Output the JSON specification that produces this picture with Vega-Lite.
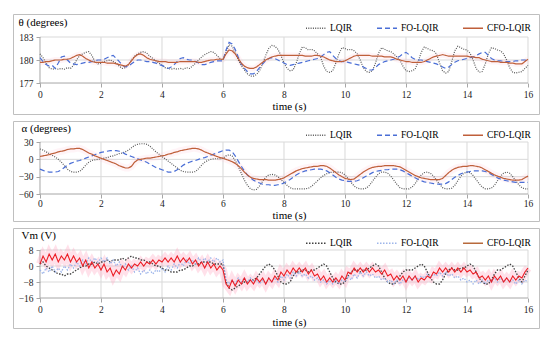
{
"$schema": "https://vega.github.io/schema/vega-lite/v6.json",
"padding": {"left": 12, "top": 13, "right": 5, "bottom": 5},
"background": "white",
"spacing": 5,
"datasets": {"d": [
{"t":0.0,"L1":180.8,"F1":180.3,"C1":179.7,"L2":18,"F2":-17,"C2":5,"L3":1,"F3":-2,"C3":1},
{"t":0.1,"L1":180.3,"F1":179.8,"C1":179.7,"L2":16,"F2":-19,"C2":6,"L3":2,"F3":-4,"C3":5},
{"t":0.2,"L1":179.6,"F1":179.4,"C1":179.8,"L2":13,"F2":-21,"C2":7,"L3":0,"F3":-1,"C3":2},
{"t":0.3,"L1":179.0,"F1":179.2,"C1":179.8,"L2":10,"F2":-22,"C2":8,"L3":-1,"F3":-3,"C3":6},
{"t":0.4,"L1":178.8,"F1":179.3,"C1":179.9,"L2":7,"F2":-22,"C2":10,"L3":-2,"F3":0,"C3":3},
{"t":0.5,"L1":178.9,"F1":178.9,"C1":180.0,"L2":4,"F2":-22,"C2":11,"L3":-3,"F3":-3,"C3":6},
{"t":0.6,"L1":178.8,"F1":179.6,"C1":180.0,"L2":0,"F2":-21,"C2":13,"L3":-4,"F3":-1,"C3":2},
{"t":0.7,"L1":178.9,"F1":180.4,"C1":180.0,"L2":-5,"F2":-18,"C2":14,"L3":-4,"F3":-3,"C3":5},
{"t":0.8,"L1":178.8,"F1":180.5,"C1":180.1,"L2":-11,"F2":-14,"C2":15,"L3":-5,"F3":0,"C3":3},
{"t":0.9,"L1":179.0,"F1":180.0,"C1":180.1,"L2":-17,"F2":-10,"C2":17,"L3":-4,"F3":-2,"C3":6},
{"t":1.0,"L1":178.9,"F1":179.6,"C1":180.2,"L2":-21,"F2":-7,"C2":18,"L3":-4,"F3":1,"C3":2},
{"t":1.1,"L1":179.3,"F1":179.5,"C1":180.4,"L2":-22,"F2":-5,"C2":18,"L3":-3,"F3":-1,"C3":5},
{"t":1.2,"L1":180.0,"F1":179.4,"C1":180.6,"L2":-22,"F2":-3,"C2":19,"L3":-2,"F3":2,"C3":2},
{"t":1.3,"L1":180.6,"F1":179.5,"C1":180.7,"L2":-21,"F2":-2,"C2":19,"L3":-1,"F3":0,"C3":4},
{"t":1.4,"L1":180.8,"F1":179.6,"C1":180.5,"L2":-16,"F2":0,"C2":17,"L3":0,"F3":3,"C3":0},
{"t":1.5,"L1":181.0,"F1":179.7,"C1":180.2,"L2":-10,"F2":2,"C2":14,"L3":0,"F3":1,"C3":3},
{"t":1.6,"L1":181.1,"F1":179.7,"C1":180.0,"L2":-5,"F2":4,"C2":11,"L3":1,"F3":4,"C3":-1},
{"t":1.7,"L1":180.6,"F1":179.8,"C1":179.8,"L2":-2,"F2":6,"C2":9,"L3":1,"F3":2,"C3":2},
{"t":1.8,"L1":179.8,"F1":179.9,"C1":179.7,"L2":-1,"F2":8,"C2":6,"L3":2,"F3":4,"C3":-1},
{"t":1.9,"L1":179.5,"F1":180.0,"C1":179.7,"L2":0,"F2":10,"C2":4,"L3":1,"F3":2,"C3":1},
{"t":2.0,"L1":179.6,"F1":180.0,"C1":179.7,"L2":1,"F2":12,"C2":2,"L3":2,"F3":4,"C3":-2},
{"t":2.1,"L1":179.8,"F1":180.1,"C1":179.7,"L2":2,"F2":13,"C2":0,"L3":2,"F3":2,"C3":1},
{"t":2.2,"L1":179.9,"F1":180.3,"C1":179.6,"L2":3,"F2":14,"C2":-2,"L3":3,"F3":4,"C3":-3},
{"t":2.3,"L1":180.0,"F1":180.5,"C1":179.6,"L2":5,"F2":15,"C2":-4,"L3":2,"F3":1,"C3":-1},
{"t":2.4,"L1":179.8,"F1":180.6,"C1":179.6,"L2":6,"F2":15,"C2":-6,"L3":3,"F3":3,"C3":-5},
{"t":2.5,"L1":179.6,"F1":180.2,"C1":179.5,"L2":8,"F2":15,"C2":-8,"L3":3,"F3":0,"C3":-2},
{"t":2.6,"L1":179.2,"F1":179.8,"C1":179.4,"L2":10,"F2":14,"C2":-11,"L3":3,"F3":2,"C3":-4},
{"t":2.7,"L1":178.9,"F1":179.3,"C1":179.3,"L2":11,"F2":12,"C2":-13,"L3":4,"F3":-1,"C3":0},
{"t":2.8,"L1":179.0,"F1":179.1,"C1":179.2,"L2":13,"F2":9,"C2":-15,"L3":3,"F3":1,"C3":-2},
{"t":2.9,"L1":179.4,"F1":179.2,"C1":179.4,"L2":16,"F2":7,"C2":-15,"L3":4,"F3":-2,"C3":1},
{"t":3.0,"L1":180.0,"F1":179.5,"C1":179.9,"L2":20,"F2":5,"C2":-12,"L3":5,"F3":0,"C3":-1},
{"t":3.1,"L1":180.5,"F1":179.8,"C1":180.4,"L2":24,"F2":3,"C2":-5,"L3":4,"F3":-3,"C3":1},
{"t":3.2,"L1":180.8,"F1":180.0,"C1":180.7,"L2":26,"F2":1,"C2":-1,"L3":4,"F3":-1,"C3":0},
{"t":3.3,"L1":181.0,"F1":180.0,"C1":180.8,"L2":27,"F2":-1,"C2":0,"L3":3,"F3":-4,"C3":2},
{"t":3.4,"L1":181.1,"F1":179.9,"C1":180.6,"L2":27,"F2":-3,"C2":1,"L3":3,"F3":-2,"C3":0},
{"t":3.5,"L1":180.9,"F1":179.8,"C1":180.3,"L2":26,"F2":-5,"C2":2,"L3":2,"F3":-4,"C3":2},
{"t":3.6,"L1":180.5,"F1":179.8,"C1":180.1,"L2":23,"F2":-8,"C2":2,"L3":2,"F3":-2,"C3":1},
{"t":3.7,"L1":180.2,"F1":179.7,"C1":180.0,"L2":18,"F2":-11,"C2":3,"L3":1,"F3":-4,"C3":3},
{"t":3.8,"L1":179.9,"F1":179.6,"C1":179.9,"L2":13,"F2":-14,"C2":4,"L3":0,"F3":-2,"C3":1},
{"t":3.9,"L1":179.6,"F1":179.4,"C1":179.8,"L2":9,"F2":-16,"C2":5,"L3":0,"F3":-3,"C3":3},
{"t":4.0,"L1":179.3,"F1":179.3,"C1":179.8,"L2":5,"F2":-18,"C2":6,"L3":-1,"F3":-1,"C3":2},
{"t":4.1,"L1":179.0,"F1":179.1,"C1":179.8,"L2":1,"F2":-20,"C2":7,"L3":-2,"F3":-3,"C3":4},
{"t":4.2,"L1":178.9,"F1":178.9,"C1":179.7,"L2":-3,"F2":-22,"C2":9,"L3":-2,"F3":0,"C3":2},
{"t":4.3,"L1":178.8,"F1":179.1,"C1":179.7,"L2":-7,"F2":-22,"C2":10,"L3":-3,"F3":-2,"C3":4},
{"t":4.4,"L1":178.9,"F1":179.4,"C1":179.7,"L2":-11,"F2":-21,"C2":12,"L3":-3,"F3":1,"C3":2},
{"t":4.5,"L1":178.8,"F1":179.8,"C1":179.7,"L2":-15,"F2":-18,"C2":13,"L3":-3,"F3":-1,"C3":5},
{"t":4.6,"L1":178.9,"F1":180.2,"C1":179.8,"L2":-19,"F2":-14,"C2":15,"L3":-2,"F3":2,"C3":2},
{"t":4.7,"L1":178.8,"F1":180.3,"C1":179.8,"L2":-21,"F2":-10,"C2":16,"L3":-2,"F3":0,"C3":4},
{"t":4.8,"L1":179.0,"F1":180.1,"C1":179.8,"L2":-22,"F2":-7,"C2":17,"L3":-1,"F3":3,"C3":2},
{"t":4.9,"L1":178.9,"F1":180.0,"C1":179.8,"L2":-22,"F2":-5,"C2":18,"L3":0,"F3":1,"C3":4},
{"t":5.0,"L1":179.2,"F1":180.0,"C1":179.8,"L2":-22,"F2":-3,"C2":19,"L3":0,"F3":3,"C3":1},
{"t":5.1,"L1":179.6,"F1":179.8,"C1":179.8,"L2":-21,"F2":-2,"C2":19,"L3":1,"F3":1,"C3":3},
{"t":5.2,"L1":180.0,"F1":179.6,"C1":179.7,"L2":-16,"F2":0,"C2":18,"L3":1,"F3":4,"C3":0},
{"t":5.3,"L1":180.4,"F1":179.4,"C1":179.7,"L2":-10,"F2":2,"C2":16,"L3":2,"F3":2,"C3":2},
{"t":5.4,"L1":180.7,"F1":179.4,"C1":179.8,"L2":-5,"F2":3,"C2":13,"L3":2,"F3":4,"C3":-1},
{"t":5.5,"L1":180.9,"F1":179.5,"C1":179.9,"L2":-2,"F2":5,"C2":11,"L3":2,"F3":2,"C3":2},
{"t":5.6,"L1":181.1,"F1":179.7,"C1":180.0,"L2":0,"F2":7,"C2":9,"L3":2,"F3":4,"C3":-1},
{"t":5.7,"L1":181.0,"F1":179.8,"C1":180.0,"L2":1,"F2":9,"C2":7,"L3":1,"F3":2,"C3":1},
{"t":5.8,"L1":180.6,"F1":179.9,"C1":180.1,"L2":1,"F2":11,"C2":5,"L3":1,"F3":4,"C3":-2},
{"t":5.9,"L1":180.2,"F1":179.9,"C1":180.1,"L2":1,"F2":13,"C2":3,"L3":1,"F3":2,"C3":0},
{"t":6.0,"L1":180.0,"F1":179.9,"C1":180.1,"L2":2,"F2":15,"C2":2,"L3":1,"F3":3,"C3":-2},
{"t":6.1,"L1":181.0,"F1":181.3,"C1":180.8,"L2":6,"F2":16,"C2":0,"L3":-8,"F3":-7,"C3":-9},
{"t":6.2,"L1":182.0,"F1":182.3,"C1":181.3,"L2":8,"F2":16,"C2":-2,"L3":-11,"F3":-9,"C3":-11},
{"t":6.3,"L1":181.8,"F1":182.1,"C1":181.2,"L2":6,"F2":13,"C2":-4,"L3":-12,"F3":-7,"C3":-7},
{"t":6.4,"L1":181.0,"F1":181.4,"C1":180.8,"L2":-2,"F2":6,"C2":-7,"L3":-11,"F3":-9,"C3":-10},
{"t":6.5,"L1":180.0,"F1":180.4,"C1":180.2,"L2":-12,"F2":-3,"C2":-11,"L3":-10,"F3":-6,"C3":-7},
{"t":6.6,"L1":179.3,"F1":179.5,"C1":179.6,"L2":-24,"F2":-12,"C2":-16,"L3":-9,"F3":-8,"C3":-9},
{"t":6.7,"L1":178.7,"F1":178.9,"C1":179.2,"L2":-36,"F2":-20,"C2":-22,"L3":-8,"F3":-6,"C3":-6},
{"t":6.8,"L1":178.2,"F1":178.5,"C1":179.0,"L2":-45,"F2":-27,"C2":-27,"L3":-8,"F3":-8,"C3":-9},
{"t":6.9,"L1":177.9,"F1":178.2,"C1":178.9,"L2":-51,"F2":-32,"C2":-31,"L3":-7,"F3":-6,"C3":-7},
{"t":7.0,"L1":177.9,"F1":178.2,"C1":178.9,"L2":-53,"F2":-36,"C2":-33,"L3":-7,"F3":-8,"C3":-9},
{"t":7.1,"L1":178.1,"F1":178.5,"C1":179.1,"L2":-52,"F2":-39,"C2":-34,"L3":-6,"F3":-7,"C3":-6},
{"t":7.2,"L1":178.6,"F1":179.0,"C1":179.4,"L2":-46,"F2":-41,"C2":-35,"L3":-4,"F3":-9,"C3":-8},
{"t":7.3,"L1":179.5,"F1":179.5,"C1":179.7,"L2":-38,"F2":-43,"C2":-35,"L3":-2,"F3":-7,"C3":-6},
{"t":7.4,"L1":180.6,"F1":179.9,"C1":180.0,"L2":-31,"F2":-44,"C2":-35,"L3":0,"F3":-9,"C3":-9},
{"t":7.5,"L1":181.5,"F1":180.2,"C1":180.2,"L2":-27,"F2":-44,"C2":-36,"L3":1,"F3":-6,"C3":-6},
{"t":7.6,"L1":181.9,"F1":180.3,"C1":180.4,"L2":-26,"F2":-45,"C2":-36,"L3":0,"F3":-8,"C3":-8},
{"t":7.7,"L1":181.8,"F1":180.2,"C1":180.5,"L2":-27,"F2":-45,"C2":-36,"L3":-2,"F3":-6,"C3":-5},
{"t":7.8,"L1":181.4,"F1":180.0,"C1":180.6,"L2":-30,"F2":-44,"C2":-35,"L3":-5,"F3":-8,"C3":-7},
{"t":7.9,"L1":180.6,"F1":179.8,"C1":180.6,"L2":-35,"F2":-43,"C2":-34,"L3":-8,"F3":-5,"C3":-3},
{"t":8.0,"L1":179.6,"F1":179.6,"C1":180.6,"L2":-40,"F2":-41,"C2":-32,"L3":-9,"F3":-7,"C3":-5},
{"t":8.1,"L1":178.9,"F1":179.4,"C1":180.6,"L2":-45,"F2":-38,"C2":-29,"L3":-9,"F3":-4,"C3":-2},
{"t":8.2,"L1":178.6,"F1":179.3,"C1":180.6,"L2":-49,"F2":-35,"C2":-26,"L3":-8,"F3":-6,"C3":-4},
{"t":8.3,"L1":178.7,"F1":179.4,"C1":180.6,"L2":-51,"F2":-31,"C2":-23,"L3":-5,"F3":-3,"C3":-1},
{"t":8.4,"L1":179.6,"F1":179.5,"C1":180.6,"L2":-51,"F2":-27,"C2":-20,"L3":-3,"F3":-5,"C3":-3},
{"t":8.5,"L1":180.8,"F1":179.6,"C1":180.6,"L2":-51,"F2":-24,"C2":-18,"L3":-3,"F3":-3,"C3":-1},
{"t":8.6,"L1":181.7,"F1":179.7,"C1":180.6,"L2":-51,"F2":-22,"C2":-16,"L3":-2,"F3":-5,"C3":-3},
{"t":8.7,"L1":181.6,"F1":179.8,"C1":180.5,"L2":-51,"F2":-20,"C2":-15,"L3":-2,"F3":-4,"C3":-1},
{"t":8.8,"L1":181.3,"F1":179.9,"C1":180.5,"L2":-50,"F2":-19,"C2":-14,"L3":-3,"F3":-6,"C3":-4},
{"t":8.9,"L1":181.4,"F1":180.0,"C1":180.5,"L2":-47,"F2":-18,"C2":-13,"L3":-2,"F3":-5,"C3":-2},
{"t":9.0,"L1":181.2,"F1":180.1,"C1":180.6,"L2":-42,"F2":-17,"C2":-12,"L3":-2,"F3":-7,"C3":-5},
{"t":9.1,"L1":180.8,"F1":180.2,"C1":180.6,"L2":-37,"F2":-17,"C2":-12,"L3":-1,"F3":-6,"C3":-4},
{"t":9.2,"L1":180.4,"F1":180.4,"C1":180.5,"L2":-32,"F2":-17,"C2":-11,"L3":0,"F3":-8,"C3":-7},
{"t":9.3,"L1":179.2,"F1":180.7,"C1":180.4,"L2":-28,"F2":-18,"C2":-11,"L3":1,"F3":-7,"C3":-5},
{"t":9.4,"L1":178.5,"F1":181.0,"C1":180.2,"L2":-25,"F2":-20,"C2":-12,"L3":0,"F3":-9,"C3":-8},
{"t":9.5,"L1":178.4,"F1":181.1,"C1":180.0,"L2":-23,"F2":-23,"C2":-15,"L3":-3,"F3":-7,"C3":-6},
{"t":9.6,"L1":178.6,"F1":180.6,"C1":179.9,"L2":-22,"F2":-27,"C2":-19,"L3":-6,"F3":-9,"C3":-8},
{"t":9.7,"L1":179.6,"F1":180.2,"C1":179.8,"L2":-22,"F2":-31,"C2":-23,"L3":-8,"F3":-7,"C3":-6},
{"t":9.8,"L1":180.8,"F1":179.9,"C1":179.8,"L2":-22,"F2":-34,"C2":-27,"L3":-9,"F3":-9,"C3":-8},
{"t":9.9,"L1":181.6,"F1":179.8,"C1":179.8,"L2":-23,"F2":-36,"C2":-30,"L3":-9,"F3":-7,"C3":-5},
{"t":10.0,"L1":181.5,"F1":179.8,"C1":179.9,"L2":-27,"F2":-37,"C2":-33,"L3":-8,"F3":-8,"C3":-7},
{"t":10.1,"L1":181.3,"F1":179.7,"C1":180.1,"L2":-33,"F2":-38,"C2":-34,"L3":-5,"F3":-5,"C3":-3},
{"t":10.2,"L1":181.4,"F1":179.6,"C1":180.3,"L2":-40,"F2":-38,"C2":-35,"L3":-3,"F3":-7,"C3":-4},
{"t":10.3,"L1":181.2,"F1":179.5,"C1":180.5,"L2":-46,"F2":-38,"C2":-34,"L3":-2,"F3":-4,"C3":-1},
{"t":10.4,"L1":180.8,"F1":179.4,"C1":180.6,"L2":-50,"F2":-37,"C2":-30,"L3":-2,"F3":-6,"C3":-3},
{"t":10.5,"L1":180.0,"F1":179.3,"C1":180.6,"L2":-51,"F2":-35,"C2":-26,"L3":-3,"F3":-3,"C3":-1},
{"t":10.6,"L1":179.0,"F1":179.1,"C1":180.6,"L2":-51,"F2":-32,"C2":-22,"L3":-2,"F3":-5,"C3":-3},
{"t":10.7,"L1":178.5,"F1":178.9,"C1":180.6,"L2":-50,"F2":-29,"C2":-19,"L3":-2,"F3":-3,"C3":-1},
{"t":10.8,"L1":178.4,"F1":178.7,"C1":180.6,"L2":-45,"F2":-26,"C2":-16,"L3":-1,"F3":-5,"C3":-3},
{"t":10.9,"L1":178.6,"F1":178.7,"C1":180.5,"L2":-38,"F2":-23,"C2":-14,"L3":0,"F3":-4,"C3":-1},
{"t":11.0,"L1":179.6,"F1":179.0,"C1":180.5,"L2":-31,"F2":-21,"C2":-13,"L3":1,"F3":-6,"C3":-3},
{"t":11.1,"L1":180.9,"F1":179.4,"C1":180.5,"L2":-25,"F2":-20,"C2":-12,"L3":0,"F3":-5,"C3":-2},
{"t":11.2,"L1":181.6,"F1":179.6,"C1":180.5,"L2":-22,"F2":-19,"C2":-12,"L3":-3,"F3":-7,"C3":-4},
{"t":11.3,"L1":181.4,"F1":179.8,"C1":180.4,"L2":-22,"F2":-18,"C2":-11,"L3":-6,"F3":-6,"C3":-2},
{"t":11.4,"L1":181.2,"F1":179.9,"C1":180.4,"L2":-24,"F2":-18,"C2":-11,"L3":-8,"F3":-8,"C3":-5},
{"t":11.5,"L1":181.1,"F1":180.0,"C1":180.4,"L2":-29,"F2":-17,"C2":-11,"L3":-9,"F3":-7,"C3":-4},
{"t":11.6,"L1":180.8,"F1":180.1,"C1":180.3,"L2":-36,"F2":-17,"C2":-11,"L3":-9,"F3":-9,"C3":-7},
{"t":11.7,"L1":180.4,"F1":180.3,"C1":180.1,"L2":-43,"F2":-17,"C2":-12,"L3":-8,"F3":-7,"C3":-5},
{"t":11.8,"L1":180.0,"F1":180.5,"C1":180.0,"L2":-49,"F2":-18,"C2":-13,"L3":-5,"F3":-9,"C3":-7},
{"t":11.9,"L1":179.2,"F1":180.8,"C1":179.9,"L2":-51,"F2":-20,"C2":-16,"L3":-3,"F3":-7,"C3":-5},
{"t":12.0,"L1":178.6,"F1":181.0,"C1":179.8,"L2":-51,"F2":-23,"C2":-19,"L3":-2,"F3":-8,"C3":-8},
{"t":12.1,"L1":178.5,"F1":180.7,"C1":179.8,"L2":-51,"F2":-26,"C2":-22,"L3":-2,"F3":-6,"C3":-5},
{"t":12.2,"L1":178.6,"F1":180.3,"C1":179.7,"L2":-48,"F2":-29,"C2":-25,"L3":-2,"F3":-7,"C3":-7},
{"t":12.3,"L1":178.8,"F1":180.1,"C1":179.7,"L2":-42,"F2":-32,"C2":-28,"L3":-1,"F3":-5,"C3":-5},
{"t":12.4,"L1":179.8,"F1":180.0,"C1":179.7,"L2":-34,"F2":-35,"C2":-30,"L3":0,"F3":-7,"C3":-8},
{"t":12.5,"L1":181.0,"F1":180.0,"C1":179.7,"L2":-27,"F2":-37,"C2":-32,"L3":1,"F3":-5,"C3":-6},
{"t":12.6,"L1":181.7,"F1":179.9,"C1":179.8,"L2":-23,"F2":-39,"C2":-33,"L3":0,"F3":-6,"C3":-7},
{"t":12.7,"L1":181.5,"F1":179.8,"C1":180.0,"L2":-22,"F2":-40,"C2":-34,"L3":-3,"F3":-4,"C3":-5},
{"t":12.8,"L1":181.3,"F1":179.7,"C1":180.2,"L2":-24,"F2":-41,"C2":-35,"L3":-6,"F3":-6,"C3":-6},
{"t":12.9,"L1":181.2,"F1":179.6,"C1":180.4,"L2":-29,"F2":-42,"C2":-35,"L3":-8,"F3":-4,"C3":-3},
{"t":13.0,"L1":180.8,"F1":179.5,"C1":180.5,"L2":-36,"F2":-43,"C2":-35,"L3":-9,"F3":-5,"C3":-4},
{"t":13.1,"L1":179.6,"F1":179.3,"C1":180.6,"L2":-43,"F2":-43,"C2":-35,"L3":-9,"F3":-3,"C3":-1},
{"t":13.2,"L1":178.6,"F1":179.1,"C1":180.7,"L2":-49,"F2":-43,"C2":-33,"L3":-7,"F3":-5,"C3":-3},
{"t":13.3,"L1":178.3,"F1":178.9,"C1":180.6,"L2":-51,"F2":-42,"C2":-28,"L3":-4,"F3":-3,"C3":-1},
{"t":13.4,"L1":178.5,"F1":179.1,"C1":180.5,"L2":-51,"F2":-39,"C2":-23,"L3":-2,"F3":-5,"C3":-3},
{"t":13.5,"L1":179.8,"F1":179.4,"C1":180.5,"L2":-50,"F2":-35,"C2":-19,"L3":-1,"F3":-4,"C3":-1},
{"t":13.6,"L1":181.2,"F1":179.7,"C1":180.5,"L2":-45,"F2":-31,"C2":-16,"L3":-2,"F3":-6,"C3":-3},
{"t":13.7,"L1":181.8,"F1":179.9,"C1":180.5,"L2":-37,"F2":-28,"C2":-14,"L3":-2,"F3":-5,"C3":-1},
{"t":13.8,"L1":181.6,"F1":180.0,"C1":180.5,"L2":-29,"F2":-25,"C2":-13,"L3":-1,"F3":-7,"C3":-3},
{"t":13.9,"L1":181.4,"F1":180.1,"C1":180.5,"L2":-24,"F2":-23,"C2":-12,"L3":-1,"F3":-6,"C3":-1},
{"t":14.0,"L1":181.3,"F1":180.2,"C1":180.5,"L2":-22,"F2":-22,"C2":-12,"L3":0,"F3":-8,"C3":-3},
{"t":14.1,"L1":180.9,"F1":180.3,"C1":180.4,"L2":-23,"F2":-21,"C2":-11,"L3":1,"F3":-7,"C3":-2},
{"t":14.2,"L1":180.0,"F1":180.4,"C1":180.4,"L2":-28,"F2":-20,"C2":-11,"L3":0,"F3":-9,"C3":-4},
{"t":14.3,"L1":178.9,"F1":180.6,"C1":180.3,"L2":-35,"F2":-20,"C2":-12,"L3":-3,"F3":-7,"C3":-3},
{"t":14.4,"L1":178.4,"F1":180.8,"C1":180.3,"L2":-42,"F2":-20,"C2":-13,"L3":-6,"F3":-9,"C3":-6},
{"t":14.5,"L1":178.5,"F1":181.0,"C1":180.1,"L2":-48,"F2":-20,"C2":-15,"L3":-8,"F3":-7,"C3":-5},
{"t":14.6,"L1":179.5,"F1":181.0,"C1":180.0,"L2":-51,"F2":-21,"C2":-18,"L3":-9,"F3":-9,"C3":-7},
{"t":14.7,"L1":180.8,"F1":180.6,"C1":179.9,"L2":-51,"F2":-23,"C2":-21,"L3":-9,"F3":-7,"C3":-5},
{"t":14.8,"L1":181.6,"F1":180.2,"C1":179.8,"L2":-50,"F2":-26,"C2":-24,"L3":-7,"F3":-8,"C3":-8},
{"t":14.9,"L1":181.5,"F1":180.0,"C1":179.8,"L2":-45,"F2":-29,"C2":-27,"L3":-4,"F3":-6,"C3":-5},
{"t":15.0,"L1":181.3,"F1":179.9,"C1":179.8,"L2":-37,"F2":-32,"C2":-29,"L3":-2,"F3":-8,"C3":-7},
{"t":15.1,"L1":181.2,"F1":179.9,"C1":179.7,"L2":-29,"F2":-34,"C2":-31,"L3":-2,"F3":-6,"C3":-5},
{"t":15.2,"L1":180.8,"F1":179.8,"C1":179.7,"L2":-24,"F2":-36,"C2":-33,"L3":-1,"F3":-8,"C3":-8},
{"t":15.3,"L1":180.0,"F1":179.8,"C1":179.7,"L2":-22,"F2":-37,"C2":-34,"L3":0,"F3":-6,"C3":-6},
{"t":15.4,"L1":179.0,"F1":179.8,"C1":179.6,"L2":-24,"F2":-38,"C2":-35,"L3":1,"F3":-8,"C3":-8},
{"t":15.5,"L1":178.4,"F1":179.8,"C1":179.6,"L2":-30,"F2":-39,"C2":-36,"L3":0,"F3":-7,"C3":-5},
{"t":15.6,"L1":178.3,"F1":179.9,"C1":179.5,"L2":-37,"F2":-40,"C2":-36,"L3":-3,"F3":-9,"C3":-7},
{"t":15.7,"L1":178.4,"F1":179.9,"C1":179.5,"L2":-44,"F2":-40,"C2":-36,"L3":-6,"F3":-7,"C3":-5},
{"t":15.8,"L1":178.5,"F1":180.0,"C1":179.5,"L2":-49,"F2":-40,"C2":-35,"L3":-8,"F3":-9,"C3":-6},
{"t":15.9,"L1":178.9,"F1":180.0,"C1":179.8,"L2":-51,"F2":-40,"C2":-32,"L3":-5,"F3":-7,"C3":-3},
{"t":16.0,"L1":179.3,"F1":179.9,"C1":180.1,"L2":-51,"F2":-40,"C2":-29,"L3":-2,"F3":-8,"C3":-1}
]},
"vconcat": [
{
"width": 526, "height": 100,
"resolve": {"axis": {"x": "independent", "y": "independent"}},
"layer": [
{"data": {"values": [{"g":2},{"g":4},{"g":6},{"g":8},{"g":10},{"g":12},{"g":14},{"g":16}]},
 "mark": {"type": "rule", "color": "#d9d9d9", "strokeWidth": 1},
 "encoding": {"x": {"field": "g", "type": "quantitative", "scale": {"domain": [-0.885, 16.361], "nice": false, "zero": false}, "axis": null},
  "y": {"datum": 177, "type": "quantitative", "scale": {"domain": [172.96, 186.0], "nice": false, "zero": false}, "axis": null},
  "y2": {"datum": 183}}},
{"data": {"values": [{"g":180},{"g":183}]},
 "mark": {"type": "rule", "color": "#d9d9d9", "strokeWidth": 1},
 "encoding": {"y": {"field": "g", "type": "quantitative", "scale": {"domain": [172.96, 186.0], "nice": false, "zero": false}, "axis": null},
  "x": {"datum": 0, "type": "quantitative", "scale": {"domain": [-0.885, 16.361], "nice": false, "zero": false}, "axis": null},
  "x2": {"datum": 16}}},
{"data": {"values": [{}]},
 "mark": {"type": "rule", "color": "#a6a6a6", "strokeWidth": 1},
 "encoding": {"x": {"datum": 0, "type": "quantitative", "scale": {"domain": [-0.885, 16.361], "nice": false, "zero": false}, "axis": null},
  "y": {"datum": 177, "type": "quantitative", "scale": {"domain": [172.96, 186.0], "nice": false, "zero": false}, "axis": null},
  "y2": {"datum": 183}}},
{"data": {"values": [{}]},
 "mark": {"type": "rule", "color": "#a6a6a6", "strokeWidth": 1},
 "encoding": {"y": {"datum": 177, "type": "quantitative", "scale": {"domain": [172.96, 186.0], "nice": false, "zero": false}, "axis": null},
  "x": {"datum": 0, "type": "quantitative", "scale": {"domain": [-0.885, 16.361], "nice": false, "zero": false}, "axis": null},
  "x2": {"datum": 16}}},
{"data": {"name": "d"},
 "mark": {"type": "line", "color": "#ffb3c8", "strokeWidth": 6, "opacity": 0.15},
 "encoding": {"x": {"field": "t", "type": "quantitative", "scale": {"domain": [-0.885, 16.361], "nice": false, "zero": false}, "axis": null},
  "y": {"field": "C1", "type": "quantitative", "scale": {"domain": [172.96, 186.0], "nice": false, "zero": false}, "axis": null}}},
{"data": {"name": "d"},
 "transform": [{"fold": ["L1", "F1", "C1"], "as": ["s", "v"]}],
 "mark": {"type": "line", "strokeWidth": 1.2},
 "encoding": {
  "x": {"field": "t", "type": "quantitative", "scale": {"domain": [-0.885, 16.361], "nice": false, "zero": false},
   "axis": {"values": [0,2,4,6,8,10,12,14,16], "offset": -31, "labelFlush": false, "labelOverlap": false, "title": "time (s)", "titleX": 276, "titleY": 23, "titleAlign": "center", "titleBaseline": "middle", "labelFont": "Liberation Serif", "labelFontSize": 9.5, "labelColor": "#1a1a1a", "titleFont": "Liberation Serif", "titleFontSize": 11, "titleFontWeight": "normal", "titleColor": "#000000", "tickColor": "#a6a6a6", "tickSize": 4, "labelPadding": 2, "domain": false, "grid": false}},
  "y": {"field": "v", "type": "quantitative", "scale": {"domain": [172.96, 186.0], "nice": false, "zero": false},
   "axis": {"values": [177,180,183], "offset": -27, "labelOverlap": false, "title": "θ (degrees)", "titleAngle": 0, "titleX": -22, "titleY": 8, "titleAlign": "left", "titleBaseline": "middle", "labelPadding": 3, "labelFont": "Liberation Serif", "labelFontSize": 9.5, "labelColor": "#1a1a1a", "titleFont": "Liberation Serif", "titleFontSize": 11, "titleFontWeight": "normal", "titleColor": "#000000", "tickColor": "#a6a6a6", "tickSize": 4, "domain": false, "grid": false}},
  "color": {"field": "s", "type": "nominal", "scale": {"domain": ["L1","F1","C1"], "range": ["#595959","#4a6ed6","#bf5f3a"]},
   "legend": {"orient": "none", "legendX": 292, "legendY": 3, "direction": "horizontal", "title": null, "labelExpr": "datum.label == 'L1' ? 'LQIR' : datum.label == 'F1' ? 'FO-LQIR' : 'CFO-LQIR'"}},
  "strokeDash": {"field": "s", "type": "nominal", "scale": {"domain": ["L1","F1","C1"], "range": [[1,1.3],[5,3],[1,0]]},
   "legend": {"orient": "none", "legendX": 292, "legendY": 3, "direction": "horizontal", "title": null, "labelExpr": "datum.label == 'L1' ? 'LQIR' : datum.label == 'F1' ? 'FO-LQIR' : 'CFO-LQIR'"}}
 }}
]
},
{
"width": 526, "height": 100,
"resolve": {"axis": {"x": "independent", "y": "independent"}},
"layer": [
{"data": {"values": [{"g":2},{"g":4},{"g":6},{"g":8},{"g":10},{"g":12},{"g":14},{"g":16}]},
 "mark": {"type": "rule", "color": "#d9d9d9", "strokeWidth": 1},
 "encoding": {"x": {"field": "g", "type": "quantitative", "scale": {"domain": [-0.885, 16.361], "nice": false, "zero": false}, "axis": null},
  "y": {"datum": -60, "type": "quantitative", "scale": {"domain": [-106.7, 66.35], "nice": false, "zero": false}, "axis": null},
  "y2": {"datum": 30}}},
{"data": {"values": [{"g":-30},{"g":0},{"g":30}]},
 "mark": {"type": "rule", "color": "#d9d9d9", "strokeWidth": 1},
 "encoding": {"y": {"field": "g", "type": "quantitative", "scale": {"domain": [-106.7, 66.35], "nice": false, "zero": false}, "axis": null},
  "x": {"datum": 0, "type": "quantitative", "scale": {"domain": [-0.885, 16.361], "nice": false, "zero": false}, "axis": null},
  "x2": {"datum": 16}}},
{"data": {"values": [{}]},
 "mark": {"type": "rule", "color": "#a6a6a6", "strokeWidth": 1},
 "encoding": {"x": {"datum": 0, "type": "quantitative", "scale": {"domain": [-0.885, 16.361], "nice": false, "zero": false}, "axis": null},
  "y": {"datum": -60, "type": "quantitative", "scale": {"domain": [-106.7, 66.35], "nice": false, "zero": false}, "axis": null},
  "y2": {"datum": 30}}},
{"data": {"values": [{}]},
 "mark": {"type": "rule", "color": "#a6a6a6", "strokeWidth": 1},
 "encoding": {"y": {"datum": -60, "type": "quantitative", "scale": {"domain": [-106.7, 66.35], "nice": false, "zero": false}, "axis": null},
  "x": {"datum": 0, "type": "quantitative", "scale": {"domain": [-0.885, 16.361], "nice": false, "zero": false}, "axis": null},
  "x2": {"datum": 16}}},
{"data": {"name": "d"},
 "mark": {"type": "line", "color": "#ffb3c8", "strokeWidth": 7, "opacity": 0.15},
 "encoding": {"x": {"field": "t", "type": "quantitative", "scale": {"domain": [-0.885, 16.361], "nice": false, "zero": false}, "axis": null},
  "y": {"field": "C2", "type": "quantitative", "scale": {"domain": [-106.7, 66.35], "nice": false, "zero": false}, "axis": null}}},
{"data": {"name": "d"},
 "transform": [{"fold": ["L2", "F2", "C2"], "as": ["s", "v"]}],
 "mark": {"type": "line", "strokeWidth": 1.2},
 "encoding": {
  "x": {"field": "t", "type": "quantitative", "scale": {"domain": [-0.885, 16.361], "nice": false, "zero": false},
   "axis": {"values": [0,2,4,6,8,10,12,14,16], "offset": -27, "labelFlush": false, "labelOverlap": false, "title": "time (s)", "titleX": 276, "titleY": 21.5, "titleAlign": "center", "titleBaseline": "middle", "labelFont": "Liberation Serif", "labelFontSize": 9.5, "labelColor": "#1a1a1a", "titleFont": "Liberation Serif", "titleFontSize": 11, "titleFontWeight": "normal", "titleColor": "#000000", "tickColor": "#a6a6a6", "tickSize": 4, "labelPadding": 0, "domain": false, "grid": false}},
  "y": {"field": "v", "type": "quantitative", "scale": {"domain": [-106.7, 66.35], "nice": false, "zero": false},
   "axis": {"values": [-60,-30,0,30], "offset": -27, "labelOverlap": false, "title": "α (degrees)", "titleAngle": 0, "titleX": -19, "titleY": 7, "titleAlign": "left", "titleBaseline": "middle", "labelPadding": 3, "labelFont": "Liberation Serif", "labelFontSize": 9.5, "labelColor": "#1a1a1a", "titleFont": "Liberation Serif", "titleFontSize": 11, "titleFontWeight": "normal", "titleColor": "#000000", "tickColor": "#a6a6a6", "tickSize": 4, "domain": false, "grid": false}},
  "color": {"field": "s", "type": "nominal", "scale": {"domain": ["L2","F2","C2"], "range": ["#595959","#4a6ed6","#bf5f3a"]},
   "legend": {"orient": "none", "legendX": 292, "legendY": 3, "direction": "horizontal", "title": null, "labelExpr": "datum.label == 'L2' ? 'LQIR' : datum.label == 'F2' ? 'FO-LQIR' : 'CFO-LQIR'"}},
  "strokeDash": {"field": "s", "type": "nominal", "scale": {"domain": ["L2","F2","C2"], "range": [[1,1.3],[5,3],[1,0]]},
   "legend": {"orient": "none", "legendX": 292, "legendY": 3, "direction": "horizontal", "title": null, "labelExpr": "datum.label == 'L2' ? 'LQIR' : datum.label == 'F2' ? 'FO-LQIR' : 'CFO-LQIR'"}}
 }}
]
},
{
"width": 526, "height": 100,
"resolve": {"axis": {"x": "independent", "y": "independent"}},
"layer": [
{"data": {"values": [{"g":2},{"g":4},{"g":6},{"g":8},{"g":10},{"g":12},{"g":14},{"g":16}]},
 "mark": {"type": "rule", "color": "#d9d9d9", "strokeWidth": 1},
 "encoding": {"x": {"field": "g", "type": "quantitative", "scale": {"domain": [-0.885, 16.361], "nice": false, "zero": false}, "axis": null},
  "y": {"datum": -16, "type": "quantitative", "scale": {"domain": [-31, 19], "nice": false, "zero": false}, "axis": null},
  "y2": {"datum": 8}}},
{"data": {"values": [{"g":-8},{"g":0},{"g":8}]},
 "mark": {"type": "rule", "color": "#d9d9d9", "strokeWidth": 1},
 "encoding": {"y": {"field": "g", "type": "quantitative", "scale": {"domain": [-31, 19], "nice": false, "zero": false}, "axis": null},
  "x": {"datum": 0, "type": "quantitative", "scale": {"domain": [-0.885, 16.361], "nice": false, "zero": false}, "axis": null},
  "x2": {"datum": 16}}},
{"data": {"values": [{}]},
 "mark": {"type": "rule", "color": "#a6a6a6", "strokeWidth": 1},
 "encoding": {"x": {"datum": 0, "type": "quantitative", "scale": {"domain": [-0.885, 16.361], "nice": false, "zero": false}, "axis": null},
  "y": {"datum": -16, "type": "quantitative", "scale": {"domain": [-31, 19], "nice": false, "zero": false}, "axis": null},
  "y2": {"datum": 8}}},
{"data": {"values": [{}]},
 "mark": {"type": "rule", "color": "#a6a6a6", "strokeWidth": 1},
 "encoding": {"y": {"datum": -16, "type": "quantitative", "scale": {"domain": [-31, 19], "nice": false, "zero": false}, "axis": null},
  "x": {"datum": 0, "type": "quantitative", "scale": {"domain": [-0.885, 16.361], "nice": false, "zero": false}, "axis": null},
  "x2": {"datum": 16}}},
{"data": {"name": "d"},
 "mark": {"type": "line", "color": "#ff9ab8", "strokeWidth": 8, "opacity": 0.3},
 "encoding": {"x": {"field": "t", "type": "quantitative", "scale": {"domain": [-0.885, 16.361], "nice": false, "zero": false}, "axis": null},
  "y": {"field": "C3", "type": "quantitative", "scale": {"domain": [-31, 19], "nice": false, "zero": false}, "axis": null}}},
{"data": {"name": "d"},
 "transform": [{"fold": ["L3", "F3", "C3"], "as": ["s", "v"]}, {"filter": "datum.s != 'C3'"}],
 "mark": {"type": "line", "strokeWidth": 1.3},
 "encoding": {
  "x": {"field": "t", "type": "quantitative", "scale": {"domain": [-0.885, 16.361], "nice": false, "zero": false},
   "axis": {"values": [0,2,4,6,8,10,12,14,16], "offset": -30, "labelFlush": false, "labelOverlap": false, "title": "time (s)", "titleX": 276, "titleY": 24, "titleAlign": "center", "titleBaseline": "middle", "labelFont": "Liberation Serif", "labelFontSize": 9.5, "labelColor": "#1a1a1a", "titleFont": "Liberation Serif", "titleFontSize": 11, "titleFontWeight": "normal", "titleColor": "#000000", "tickColor": "#a6a6a6", "tickSize": 4, "labelPadding": 2, "domain": false, "grid": false}},
  "y": {"field": "v", "type": "quantitative", "scale": {"domain": [-31, 19], "nice": false, "zero": false},
   "axis": {"values": [-16,-8,0,8], "offset": -27, "labelOverlap": false, "title": "Vm (V)", "titleAngle": 0, "titleX": -19, "titleY": 7, "titleAlign": "left", "titleBaseline": "middle", "labelPadding": 3, "labelFont": "Liberation Serif", "labelFontSize": 9.5, "labelColor": "#1a1a1a", "titleFont": "Liberation Serif", "titleFontSize": 11, "titleFontWeight": "normal", "titleColor": "#000000", "tickColor": "#a6a6a6", "tickSize": 4, "domain": false, "grid": false}},
  "color": {"field": "s", "type": "nominal", "scale": {"domain": ["L3","F3","C3"], "range": ["#404040","#9db5ea","#b86a3c"]},
   "legend": {"orient": "none", "legendX": 292, "legendY": 4, "direction": "horizontal", "title": null, "labelExpr": "datum.label == 'L3' ? 'LQIR' : datum.label == 'F3' ? 'FO-LQIR' : 'CFO-LQIR'"}},
  "strokeDash": {"field": "s", "type": "nominal", "scale": {"domain": ["L3","F3","C3"], "range": [[1.5,1.5],[1.5,1.5],[1,0]]},
   "legend": {"orient": "none", "legendX": 292, "legendY": 4, "direction": "horizontal", "title": null, "labelExpr": "datum.label == 'L3' ? 'LQIR' : datum.label == 'F3' ? 'FO-LQIR' : 'CFO-LQIR'"}}
 }},
{"data": {"name": "d"},
 "mark": {"type": "line", "color": "#ec1c24", "strokeWidth": 1.1},
 "encoding": {"x": {"field": "t", "type": "quantitative", "scale": {"domain": [-0.885, 16.361], "nice": false, "zero": false}, "axis": null},
  "y": {"field": "C3", "type": "quantitative", "scale": {"domain": [-31, 19], "nice": false, "zero": false}, "axis": null}}}
]
}
],
"resolve": {"scale": {"x": "independent", "y": "independent", "color": "independent", "strokeDash": "independent"}, "legend": {"color": "independent", "strokeDash": "independent"}},
"config": {
 "font": "Liberation Serif",
 "view": {"stroke": "#bfbfbf", "strokeWidth": 1},
 "style": {"guide-label": {"font": "Liberation Serif", "fontWeight": "normal"}, "guide-title": {"font": "Liberation Serif", "fontWeight": "normal"}},
 "axis": {"grid": false, "domain": false, "ticks": true, "tickSize": 4, "tickColor": "#a6a6a6", "labelFont": "Liberation Serif", "labelFontSize": 9.5, "labelColor": "#1a1a1a", "labelPadding": 2, "titleFont": "Liberation Serif", "titleFontSize": 11, "titleFontWeight": "normal", "titleColor": "#000000"},
 "legend": {"symbolType": "stroke", "symbolSize": 400, "symbolStrokeWidth": 1.4, "labelFont": "Liberation Serif", "labelFontSize": 9.5, "labelColor": "#000000", "labelOffset": 3, "columnPadding": 21, "padding": 0}
}
}
